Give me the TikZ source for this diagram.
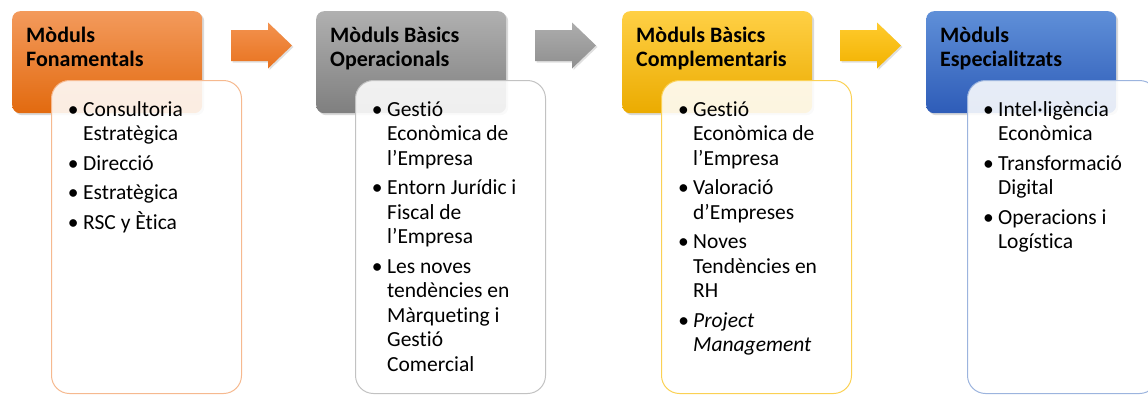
\documentclass[tikz,border=0pt]{standalone}
\usepackage{fontspec}
\setmainfont{Carlito}[Ligatures=NoCommon]
\usetikzlibrary{shadows}
\definecolor{orTop}{HTML}{F39A5C}
\definecolor{orBot}{HTML}{E26A0F}
\definecolor{orArT}{HTML}{F3924F}
\definecolor{orArB}{HTML}{E8731F}
\definecolor{orLine}{HTML}{F6B98F}
\definecolor{grTop}{HTML}{B0B0B0}
\definecolor{grBot}{HTML}{7F7F7F}
\definecolor{grArT}{HTML}{ADADAD}
\definecolor{grArB}{HTML}{8F8F8F}
\definecolor{grLine}{HTML}{C2C2C2}
\definecolor{yeTop}{HTML}{FFD045}
\definecolor{yeBot}{HTML}{EBAB00}
\definecolor{yeArT}{HTML}{FFCB2E}
\definecolor{yeArB}{HTML}{F2B200}
\definecolor{yeLine}{HTML}{FBD154}
\definecolor{blTop}{HTML}{5F8FD8}
\definecolor{blBot}{HTML}{2E5CB8}
\definecolor{blLine}{HTML}{9CB4DE}
\tikzset{
  hdr/.style={rounded corners=8pt, minimum width=190pt, minimum height=102pt,
    anchor=north west, inner sep=0pt,
    drop shadow={opacity=0.3, shadow xshift=2pt, shadow yshift=-2pt}},
  bodybox/.style={draw, line width=1pt, rounded corners=18pt, fill=white,
    fill opacity=0.88, minimum width=190pt, minimum height=313pt,
    anchor=north west, inner sep=0pt},
  ttl/.style={font=\fontsize{22}{24}\selectfont\bfseries, align=left,
    anchor=base west, inner sep=0pt},
  itm/.style={font=\fontsize{21.5}{24.5}\selectfont, align=left,
    anchor=base west, inner sep=0pt},
  itmi/.style={itm, font=\fontsize{21.5}{24.5}\selectfont\itshape},
  blockarrow/.style={drop shadow={opacity=0.25, shadow xshift=1.5pt, shadow yshift=-1.5pt}}
}
\newcommand{\bul}{\llap{\textbullet\hspace{4.5pt}}}
\newcommand{\blockarr}[3]{% tail x, top colour, bottom colour
  \shade[blockarrow, top color=#2, bottom color=#3]
    (#1,30) -- ++(37,0) -- ++(0,-7.5) -- ++(24,23) -- ++(-24,23)
    -- ++(0,-7.5) -- ++(-37,0) -- cycle;}
\begin{document}
\begin{tikzpicture}[x=1pt,y=-1pt]
\useasboundingbox (0,0) rectangle (1148,394);
% headers
\node[hdr, top color=orTop, bottom color=orBot] (h1) at (12,11) {};
\node[hdr, top color=grTop, bottom color=grBot] (h2) at (316,11) {};
\node[hdr, top color=yeTop, bottom color=yeBot] (h3) at (622,11) {};
\node[hdr, top color=blTop, bottom color=blBot] (h4) at (926,11) {};
\node[ttl] (t1) at (26,66) {Mòduls\\Fonamentals};
\node[ttl] (t2) at (330,66) {Mòduls Bàsics\\Operacionals};
\node[ttl] (t3) at (636,66) {Mòduls Bàsics\\Complementaris};
\node[ttl] (t4) at (940,66) {Mòduls\\Especialitzats};
% arrows
\blockarr{231}{orArT}{orArB}
\blockarr{535}{grArT}{grArB}
\blockarr{840}{yeArT}{yeArB}
% bodies
\node[bodybox, draw=orLine] (b1) at (51,80) {};
\node[bodybox, draw=grLine] (b2) at (355,80) {};
\node[bodybox, draw=yeLine] (b3) at (661,80) {};
\node[bodybox, draw=blLine] (b4) at (967,80) {};
% column 1
\node[itm] (c1a) at (83,140.5) {\bul Consultoria\\Estratègica};
\node[itm] (c1b) at (83,170) {\bul Direcció};
\node[itm] (c1c) at (83,199.5) {\bul Estratègica};
\node[itm] (c1d) at (83,229) {\bul RSC y Ètica};
% column 2
\node[itm] (c2a) at (387,165) {\bul Gestió\\Econòmica de\\l’Empresa};
\node[itm] (c2b) at (387,243.5) {\bul Entorn Jurídic i\\Fiscal de\\l’Empresa};
\node[itm] (c2c) at (387,371) {\bul Les noves\\tendències en\\Màrqueting i\\Gestió\\Comercial};
% column 3
\node[itm] (c3a) at (693,165) {\bul Gestió\\Econòmica de\\l’Empresa};
\node[itm] (c3b) at (693,219) {\bul Valoració\\d’Empreses};
\node[itm] (c3c) at (693,297.5) {\bul Noves\\Tendències en\\RH};
\node[itmi] (c3d) at (693,351.5) {\bul Project\\Management};
% column 4
\node[itm] (c4a) at (998,140.5) {\bul Intel·ligència\\Econòmica};
\node[itm] (c4b) at (998,194.5) {\bul Transformació\\Digital};
\node[itm] (c4c) at (998,248.5) {\bul Operacions i\\Logística};
\end{tikzpicture}
\end{document}
